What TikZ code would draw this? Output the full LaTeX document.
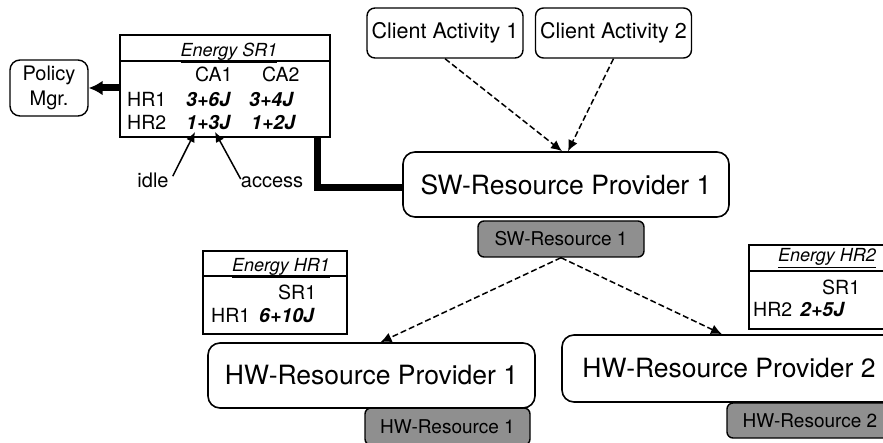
\documentclass[tikz,border=0pt]{standalone}
\usepackage{fontspec}
\setmainfont{TeX Gyre Heros}
\usepackage{tikz}
\usetikzlibrary{arrows.meta}

\tikzset{
  provider/.style={draw, fill=white, rounded corners=12pt, line width=1.6pt, minimum height=65pt, inner sep=0pt, font=\fontsize{26.5}{30}\selectfont},
  client/.style={draw, fill=white, rounded corners=8pt, line width=1.4pt, minimum width=156pt, minimum height=50pt, inner sep=0pt, font=\fontsize{21.5}{24}\selectfont},
  resource/.style={draw, fill=black!44, rounded corners=6pt, line width=1.4pt, minimum height=36pt, inner sep=0pt, font=\fontsize{19}{22}\selectfont},
  energytab/.style={draw, line width=1.2pt, inner sep=0pt},
  tabtitle/.style={anchor=base, inner sep=0pt, font=\fontsize{18}{20}\selectfont\itshape},
  tabtext/.style={anchor=base west, inner sep=0pt, font=\fontsize{19.5}{22}\selectfont},
  tabval/.style={anchor=base west, inner sep=0pt, font=\fontsize{19.5}{22}\selectfont\bfseries\itshape},
  note/.style={anchor=base, inner sep=0pt, font=\fontsize{20}{22}\selectfont},
  uses/.style={-{Latex[length=11pt,width=10pt]}, dash pattern=on 6pt off 3pt, line width=1.5pt},
  pointer/.style={-{Latex[length=10pt,width=9pt]}, line width=1.5pt},
  heavy/.style={line width=7pt}
}

\begin{document}
\begin{tikzpicture}[x=1pt, y=-1pt]
        \useasboundingbox (0,0) rectangle (883,443);
        \clip (0,0) rectangle (883,443);

        % client activities and the software provider
        \node (ca1) at (445,33)[client] {Client Activity 1};
        \node (ca2) at (613.5,33)[client] {Client Activity 2};
        \node (swprov) at (566,184.5)[provider, minimum width=326pt] {SW-Resource Provider 1};
        \node (swres) at (561,239)[resource, minimum width=166pt] {SW-Resource 1};

        % hardware providers
        \node (hwres1) at (447.5,426.5)[resource, minimum width=165pt, minimum height=37pt] {HW-Resource 1};
        \node (hwres2) at (810,420.5)[resource, minimum width=166pt, minimum height=35pt] {HW-Resource 2};
        \node (hwprov1) at (371.5,375.5)[provider, minimum width=327pt] {HW-Resource Provider 1};
        \node (hwprov2) at (729,368.5)[provider, minimum width=334pt, minimum height=67pt] {HW-Resource Provider 2};

        % policy manager
        \node (policy) at (49,88)[draw, rounded corners=10pt, line width=1.4pt, minimum width=78pt, minimum height=56pt, inner sep=0pt, align=center, font=\fontsize{20}{25}\selectfont] {Policy\\Mgr.};

        % energy table of SR1
        \node (sr1tab) at (225,86)[energytab, minimum width=210pt, minimum height=102pt] {};
        \draw[line width=1.2pt] (sr1tab.west |- 0,61) -- (sr1tab.east |- 0,61);
        \node (sr1-title) at (229,57)[tabtitle] {\underline{Energy SR1}};
        \node (sr1-ca1) at (195,82)[tabtext] {CA1};
        \node (sr1-ca2) at (262,82)[tabtext] {CA2};
        \node (sr1-hr1) at (127,107)[tabtext] {HR1};
        \node (sr1-v11) at (186,107)[tabval] {3+6J};
        \node (sr1-v12) at (249,107)[tabval] {3+4J};
        \node (sr1-hr2) at (127,130)[tabtext] {HR2};
        \node (sr1-v21) at (186,130)[tabval] {1+3J};
        \node (sr1-v22) at (251,130)[tabval] {1+2J};

        % energy table of HR1
        \node (hr1tab) at (275,292.5)[energytab, minimum width=144pt, minimum height=83pt] {};
        \draw[line width=1.2pt] (hr1tab.west |- 0,276) -- (hr1tab.east |- 0,276);
        \node (hr1-title) at (281,272)[tabtitle] {\underline{Energy HR1}};
        \node (hr1-sr1) at (278,300)[tabtext] {SR1};
        \node (hr1-hr1) at (211,323)[tabtext] {HR1};
        \node (hr1-val) at (259,323)[tabval] {6+10J};

        % energy table of HR2
        \node (hr2tab) at (824.5,287)[energytab, minimum width=151pt, minimum height=84pt] {};
        \draw[line width=1.2pt] (hr2tab.west |- 0,271) -- (hr2tab.east |- 0,271);
        \node (hr2-title) at (827,262)[tabtitle] {\underline{Energy HR2}};
        \node (hr2-sr1) at (822,295)[tabtext] {SR1};
        \node (hr2-hr2) at (753,317)[tabtext] {HR2};
        \node (hr2-val) at (800,317)[tabval] {2+5J};

        % idle / access notes
        \node (idle) at (153,188)[note] {idle};
        \node (access) at (272,188)[note] {access};
        \coordinate (idle-tip) at (195,132);
        \coordinate (access-tip) at (215,132);

        \draw[uses] (ca1.south) -- ([xshift=-4pt]swprov.north);
        \draw[uses] (ca2.south) -- ([xshift=2pt]swprov.north);
        \draw[uses] (swres.south) -- ([xshift=9pt]hwprov1.north);
        \draw[uses] (swres.south) -- ([xshift=-7pt]hwprov2.north);
        \draw[heavy] (sr1tab.south -| 317,0) |- ([yshift=-3.5pt]swprov.west);
        \draw[heavy, -{Latex[length=14pt,width=15pt]}] (sr1tab.west |- policy) -- (policy);
        \draw[pointer] ([shift={(4pt,-3pt)}]idle.north east) -- (idle-tip);
        \draw[pointer] ([shift={(0pt,-2pt)}]access.north west) -- (access-tip);
    \end{tikzpicture}
\end{document}
